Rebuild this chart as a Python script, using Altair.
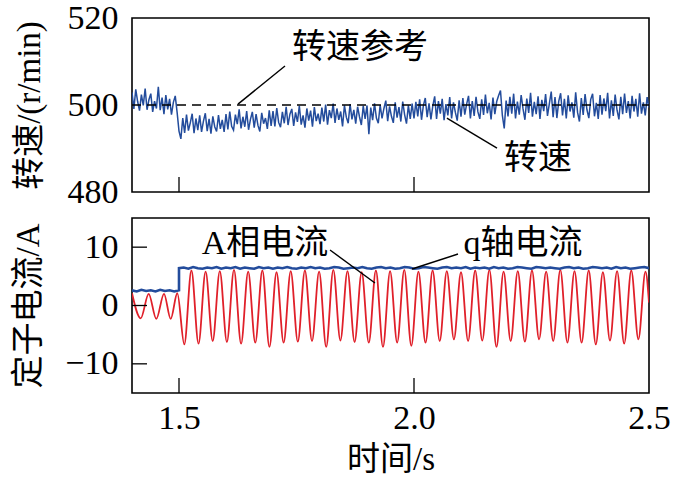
import altair as alt
import pandas as pd
import numpy as np

FONT = "Liberation Serif, Noto Sans CJK SC"
BLUE = "#234c9c"
RED = "#e0202a"

# ---------------- data ----------------
# speed samples (r/min), sampled every 4 ms from 1.400 s to 2.500 s
speed = [
    502.9, 499.1, 503.6, 500.8, 498.7, 502.4, 499.9, 503.8, 498.9, 501.2, 502.6, 498.4, 500.9, 499.2, 504.2, 498.8, 501.7, 497.9, 502.3, 499.0, 501.4, 497.8, 500.6, 502.1, 498.3,
    494.0, 492.2, 497.0, 493.6, 497.8, 494.1, 495.9, 498.0, 493.5, 496.9, 494.2, 497.6, 493.8, 496.3, 498.1, 494.0, 496.8, 493.4, 497.4, 495.0, 493.9, 497.7, 494.5, 496.6, 493.8,
    497.9, 494.4, 498.5, 495.1, 494.2, 497.8, 495.6, 499.0, 494.6, 497.3, 495.0, 498.6, 494.3, 496.7, 498.4, 494.8, 497.9, 495.3, 493.9, 498.2, 495.7, 497.0, 494.5, 498.8, 495.2,
    498.6, 495.1, 499.3, 496.0, 494.9, 498.4, 495.8, 499.6, 495.4, 497.9, 499.1, 495.2, 498.3, 496.1, 499.8, 495.5, 497.6, 494.8, 499.2, 496.4, 498.7, 495.0, 499.5, 496.3, 498.0,
    495.6, 499.4, 496.2, 500.1, 495.5, 498.8, 497.0, 500.3, 495.9, 499.2, 496.6, 498.5, 495.1, 499.9, 497.2, 495.8, 500.2, 496.7, 498.9, 495.7, 499.6, 497.3, 495.4, 499.8, 496.8,
    499.9, 493.3, 499.4, 496.5, 500.4, 497.0, 495.8, 500.0, 496.9, 499.2, 501.0, 496.3, 499.7, 497.4, 495.9, 500.6, 497.1, 499.5, 496.2, 500.8, 497.8, 495.7, 499.9, 496.8, 500.3,
    496.9, 500.7, 497.4, 501.3, 496.6, 499.9, 501.6, 497.2, 500.4, 496.7, 499.8, 502.0, 496.8, 500.9, 498.0, 501.4, 496.5, 500.2, 497.6, 501.8, 496.9, 500.6, 498.3, 496.4, 501.1,
    497.3, 501.6, 497.8, 500.2, 502.1, 496.9, 500.9, 497.5, 501.9, 498.4, 496.8, 501.3, 497.7, 502.4, 498.1, 500.5, 496.7, 501.7, 497.9, 500.8, 502.2, 503.3, 497.6, 494.6, 501.0,
    497.4, 501.9, 498.0, 502.6, 496.9, 500.8, 497.8, 502.3, 499.1, 496.6, 501.5, 498.2, 502.8, 497.3, 500.7, 497.9, 502.0, 496.8, 501.2, 498.6, 502.5, 497.5, 500.3, 503.1, 497.2,
    501.8, 497.0, 500.9, 502.7, 497.6, 501.4, 496.9, 502.2, 498.5, 500.6, 497.1, 502.9, 498.3, 496.2, 501.6, 497.7, 502.5, 498.9, 497.0, 501.3, 502.6, 497.4, 500.5, 496.8, 502.3,
    497.8, 501.5, 498.6, 502.8, 496.9, 501.1, 497.5, 502.4, 498.8, 496.7, 501.9, 497.9, 502.6, 498.2, 500.9, 496.9, 502.1, 498.5, 501.4, 497.3, 502.7, 498.0, 500.6, 497.6, 501.8, 499.4,
]
speed_time = np.round(1.4 + 0.004 * np.arange(len(speed)), 4)
speed_ref = [500]

# q-axis current (A), sampled every 10 ms, step at 1.5 s
q_pre = [2.6, 2.4, 2.7, 2.5, 2.6, 2.4, 2.7, 2.5, 2.6, 2.4, 2.6]
q_post = [
    6.4, 6.5, 6.3, 6.6, 6.4, 6.3, 6.5, 6.4, 6.6, 6.3,
    6.5, 6.4, 6.6, 6.3, 6.5, 6.4, 6.3, 6.6, 6.4, 6.5,
    6.3, 6.5, 6.4, 6.6, 6.4, 6.3, 6.5, 6.4, 6.6, 6.4,
    6.5, 6.3, 6.4, 6.6, 6.5, 6.3, 6.4, 6.5, 6.4, 6.6,
    6.4, 6.3, 6.5, 6.6, 6.4, 6.5, 6.3, 6.4, 6.6, 6.5,
    6.3, 6.4, 6.6, 6.5, 6.4, 6.3, 6.5, 6.6, 6.4, 6.5,
    6.4, 6.6, 6.3, 6.5, 6.4, 6.5, 6.3, 6.6, 6.4, 6.5,
    6.3, 6.4, 6.6, 6.5, 6.4, 6.3, 6.6, 6.5, 6.4, 6.5,
    6.4, 6.3, 6.5, 6.6, 6.4, 6.5, 6.3, 6.4, 6.6, 6.5,
    6.4, 6.5, 6.3, 6.6, 6.4, 6.5, 6.3, 6.4, 6.5, 6.6,
    6.4,
]
q_time = np.concatenate([np.round(1.40 + 0.01 * np.arange(len(q_pre)), 3),
                         np.round(1.50 + 0.01 * np.arange(len(q_post)), 3)])

# A-phase current extrema (s, A)
ia_pre_t = [1.4000, 1.4185, 1.4355, 1.4517, 1.4681, 1.4823, 1.4964]
ia_pre_v = [2.1, -2.2, 2.0, -2.3, 2.0, -2.3, 2.1]
ia_trough_t = [1.5113, 1.5415, 1.5717, 1.6019, 1.6321, 1.6623, 1.6924, 1.7226, 1.7528, 1.7830,
               1.8132, 1.8434, 1.8736, 1.9038, 1.9340, 1.9642, 1.9943, 2.0245, 2.0547, 2.0849,
               2.1151, 2.1453, 2.1755, 2.2057, 2.2359, 2.2661, 2.2962, 2.3264, 2.3566, 2.3868,
               2.4170, 2.4472, 2.4774]
ia_trough_v = [-6.66, -6.55, -6.09, -6.26, -6.55, -6.37, -7.10, -6.37, -6.20, -6.09, -7.10,
               -6.00, -6.26, -6.37, -7.10, -6.37, -6.90, -6.37, -6.09, -5.80, -6.09, -6.00,
               -7.10, -6.09, -6.20, -5.80, -6.09, -6.37, -6.37, -6.66, -6.00, -6.55, -5.80]
ia_peak_t = [1.5264, 1.5566, 1.5868, 1.6170, 1.6472, 1.6774, 1.7075, 1.7377, 1.7679, 1.7981,
             1.8283, 1.8585, 1.8887, 1.9189, 1.9491, 1.9793, 2.0094, 2.0396, 2.0698, 2.1000,
             2.1302, 2.1604, 2.1906, 2.2208, 2.2510, 2.2812, 2.3113, 2.3415, 2.3717, 2.4019,
             2.4321, 2.4623, 2.4925]
ia_peak_v = [6.0, 5.8, 5.9, 6.1, 5.8, 6.0, 5.7, 5.9, 6.0, 5.8, 6.1, 5.9, 5.7, 6.0, 5.9, 6.1,
             5.8, 6.0, 5.9, 5.7, 6.0, 6.1, 5.8, 5.9, 6.0, 5.8, 6.1, 5.9, 6.0, 5.7, 5.9, 6.0, 5.8]
ia_end_t = [2.5000]
ia_end_v = [0.5]

x_tick_values = [1.5, 2.0]
x_label_values = [1.5, 2.0, 2.5]
y_top_ticks = [480, 500, 520]
y_bot_ticks = [-10, 0, 10]

# annotations (label position, leader line start/end in data units)
top_labels = ["转速参考", "转速"]
top_label_t = [1.885, 2.264]
top_label_v = [513.1, 487.6]
top_lead_t1 = [1.7255, 2.070]
top_lead_v1 = [508.97, 497.0]
top_lead_t2 = [1.6255, 2.1766]
top_lead_v2 = [500.2, 490.1]

bot_labels = ["A相电流", "q轴电流"]
bot_label_t = [1.683, 2.232]
bot_label_v = [10.5, 10.5]
bot_lead_t1 = [1.8213, 2.0936]
bot_lead_v1 = [9.51, 8.83]
bot_lead_t2 = [1.917, 1.9957]
bot_lead_v2 = [3.86, 6.26]

# ---------------- tables ----------------
df_speed = pd.DataFrame({"t": speed_time, "v": speed})
df_ref = pd.DataFrame({"t": [1.4], "t2": [2.5], "v": speed_ref})
df_q = pd.DataFrame({"t": q_time, "v": q_pre + q_post})
df_ia = pd.DataFrame({
    "t": ia_pre_t + ia_trough_t + ia_peak_t + ia_end_t,
    "v": ia_pre_v + ia_trough_v + ia_peak_v + ia_end_v,
}).sort_values("t")
df_xt = pd.DataFrame({"t": x_tick_values})
df_ybt = pd.DataFrame({"v": y_bot_ticks})
df_top_lab = pd.DataFrame({"t": top_label_t, "v": top_label_v, "label": top_labels})
df_top_lead = pd.DataFrame({"t": top_lead_t1, "v": top_lead_v1, "t2": top_lead_t2, "v2": top_lead_v2})
df_bot_lab = pd.DataFrame({"t": bot_label_t, "v": bot_label_v, "label": bot_labels})
df_bot_lead = pd.DataFrame({"t": bot_lead_t1, "v": bot_lead_v1, "t2": bot_lead_t2, "v2": bot_lead_v2})

W, H1, H2 = 517, 174, 175
TICK = 15

xscale = alt.Scale(domain=[1.4, 2.5], nice=False, zero=False)
ys_top = alt.Scale(domain=[480, 520], nice=False, zero=False)
ys_bot = alt.Scale(domain=[-15, 15], nice=False, zero=False)

X = alt.X("t:Q", scale=xscale)

# ---------------- top panel ----------------
top_line = alt.Chart(df_speed).mark_line(color=BLUE, strokeWidth=1.5, clip=True).encode(
    x=alt.X("t:Q", scale=xscale,
            axis=alt.Axis(labels=False, ticks=False, domain=False, grid=False, title=None)),
    y=alt.Y("v:Q", scale=ys_top,
            axis=alt.Axis(values=y_top_ticks, title="转速/(r/min)", labelPadding=14,
                          titlePadding=21, ticks=False, domain=False, grid=False)),
)
top_ref = alt.Chart(df_ref).mark_rule(color="black", strokeWidth=1.4, strokeDash=[9, 6]).encode(
    x=X, x2="t2:Q", y=alt.Y("v:Q", scale=ys_top),
)
top_xt = alt.Chart(df_xt).mark_rule(color="black", strokeWidth=1.3).encode(
    x=X, y=alt.value(H1), y2=alt.value(H1 - TICK),
)
top_lead = alt.Chart(df_top_lead).mark_rule(color="black", strokeWidth=1.4).encode(
    x=X, x2="t2:Q", y=alt.Y("v:Q", scale=ys_top), y2="v2:Q",
)
top_text = alt.Chart(df_top_lab).mark_text(font=FONT, fontSize=34, color="black",
                                           baseline="middle", align="center").encode(
    x=X, y=alt.Y("v:Q", scale=ys_top), text="label:N",
)
top = alt.layer(top_line, top_ref, top_xt, top_lead, top_text).properties(width=W, height=H1)

# ---------------- bottom panel ----------------
bot_ia = alt.Chart(df_ia).mark_line(color=RED, strokeWidth=1.8, interpolate="monotone", clip=True).encode(
    x=alt.X("t:Q", scale=xscale,
            axis=alt.Axis(values=x_label_values, format=".1f", title="时间/s", labelFlush=False,
                          labelPadding=8, titlePadding=8, ticks=False, domain=False, grid=False)),
    y=alt.Y("v:Q", scale=ys_bot,
            axis=alt.Axis(values=y_bot_ticks, title="定子电流/A", labelPadding=14,
                          titlePadding=19, ticks=False, domain=False, grid=False)),
)
bot_q = alt.Chart(df_q).mark_line(color=BLUE, strokeWidth=2.6, clip=True).encode(
    x=X, y=alt.Y("v:Q", scale=ys_bot),
)
bot_xt = alt.Chart(df_xt).mark_rule(color="black", strokeWidth=1.3).encode(
    x=X, y=alt.value(H2), y2=alt.value(H2 - TICK),
)
bot_yt = alt.Chart(df_ybt).mark_rule(color="black", strokeWidth=1.3).encode(
    y=alt.Y("v:Q", scale=ys_bot), x=alt.value(0), x2=alt.value(TICK),
)
bot_lead = alt.Chart(df_bot_lead).mark_rule(color="black", strokeWidth=1.4).encode(
    x=X, x2="t2:Q", y=alt.Y("v:Q", scale=ys_bot), y2="v2:Q",
)
bot_text = alt.Chart(df_bot_lab).mark_text(font=FONT, fontSize=34, color="black",
                                           baseline="middle", align="center").encode(
    x=X, y=alt.Y("v:Q", scale=ys_bot), text="label:N",
)
bottom = alt.layer(bot_ia, bot_q, bot_xt, bot_yt, bot_lead, bot_text).properties(width=W, height=H2)

chart = alt.vconcat(top, bottom, spacing=7).properties(
    padding={"left": 12, "top": 0, "right": 5, "bottom": 5},
    background="white",
).configure_axis(
    labelFont=FONT, labelFontSize=34, labelColor="black",
    titleFont=FONT, titleFontSize=33, titleColor="black", titleFontWeight="normal",
).configure_view(stroke="black", strokeWidth=1.6)

chart.save("out.html", embed_options={"renderer": "svg", "actions": False})
